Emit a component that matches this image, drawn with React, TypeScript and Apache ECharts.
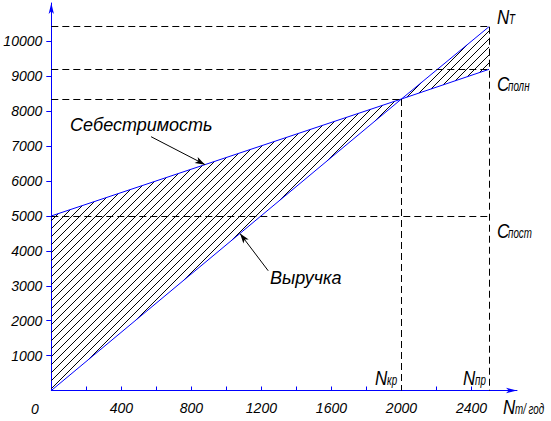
import React, { useEffect, useRef } from "react";
import * as echarts from "echarts";

// ---- data ----
const xTickValues = [200, 400, 600, 800, 1000, 1200, 1400, 1600, 1800, 2000, 2200, 2400];
const xLabelValues = [400, 800, 1200, 1600, 2000, 2400];
const yTickValues = [1000, 2000, 3000, 4000, 5000, 6000, 7000, 8000, 9000, 10000];
const volumeX = [0, 2000, 2500];
const costValues = [5000, 8350, 9200];
const revenueValues = [0, 8350, 10420];
const fixedCost = 5000;
const breakEvenVolume = 2000;
const capacityVolume = 2500;
const costArrow = [[570, 7270], [878, 6470]];
const revenueArrow = [[1239, 3430], [1078, 4495]];

const FONT = "'Liberation Sans', Arial, sans-serif";
const BLUE = "#0000ff";
const HATCH_STEP = 8;

function hatchLines(pts: number[][]) {
  const sums = pts.map((p) => p[0] + p[1]);
  const cMin = Math.ceil(Math.min(...sums) / HATCH_STEP) * HATCH_STEP;
  const cMax = Math.max(...sums);
  const out: any[] = [];
  for (let c = cMin; c <= cMax; c += HATCH_STEP) {
    const xs: number[] = [];
    for (let i = 0; i < pts.length; i++) {
      const a = pts[i];
      const b = pts[(i + 1) % pts.length];
      const dx = b[0] - a[0];
      const dy = b[1] - a[1];
      const den = dx + dy;
      if (Math.abs(den) < 1e-9) continue;
      const s = (c - a[0] - a[1]) / den;
      if (s >= -1e-9 && s <= 1 + 1e-9) xs.push(a[0] + s * dx);
    }
    if (xs.length < 2) continue;
    const x1 = Math.min(...xs);
    const x2 = Math.max(...xs);
    if (x2 - x1 < 0.5) continue;
    out.push({
      type: "line",
      shape: { x1, y1: c - x1, x2, y2: c - x2 },
      style: { stroke: "#000", lineWidth: 1 },
      silent: true,
    });
  }
  return out;
}

function App() {
  const ref = useRef<HTMLDivElement>(null);
  useEffect(() => {
    if (!ref.current) return;
    const chart = echarts.init(ref.current, null, { renderer: "svg" });

    const beY = costValues[volumeX.indexOf(breakEvenVolume)];
    const capCost = costValues[volumeX.indexOf(capacityVolume)];
    const capRev = revenueValues[volumeX.indexOf(capacityVolume)];

    const dashStyle = { color: "#000", width: 1, type: [7, 4] as any };
    const seg = (a: number[], b: number[]) => [{ coord: a }, { coord: b }];

    const txt = (text: string, x: number, y: number, size: number, sx = 1) => ({
      type: "text",
      x,
      y,
      scaleX: sx,
      silent: true,
      style: {
        text,
        fill: "#000",
        font: `italic ${size}px ${FONT}`,
        align: "left",
        verticalAlign: "bottom",
      },
    });
    const sym = (main: string, sub: string, x: number, baseline: number, subDx: number) => [
      txt(main, x, baseline + 4, 20, 0.85),
      txt(sub, x + subDx, baseline + 3, 14, 0.7),
    ];

    const segIdx = volumeX.slice(0, -1).map((_, i) => [i, 0]);

    const option: any = {
      animation: false,
      backgroundColor: "#fff",
      grid: { left: 51.3, right: 34, top: 3, bottom: 30.5 },
      xAxis: {
        type: "value",
        min: 0,
        max: 2660,
        splitLine: { show: false },
        axisLine: { lineStyle: { color: BLUE, width: 1 }, symbol: ["none", "arrow"], symbolSize: [4, 11] },
        axisTick: { inside: true, length: 4, customValues: xTickValues, lineStyle: { color: BLUE } },
        axisLabel: {
          customValues: xLabelValues,
          formatter: (v: number) => String(v),
          margin: 10,
          color: "#000",
          fontSize: 14,
          fontStyle: "italic",
          fontFamily: FONT,
        },
      },
      yAxis: {
        type: "value",
        min: 0,
        max: 11100,
        splitLine: { show: false },
        axisLine: { lineStyle: { color: BLUE, width: 1 }, symbol: ["none", "arrow"], symbolSize: [4, 11] },
        axisTick: { length: 5, customValues: yTickValues, lineStyle: { color: BLUE } },
        axisLabel: {
          customValues: yTickValues,
          formatter: (v: number) => String(v),
          margin: 9,
          color: "#000",
          fontSize: 14,
          fontStyle: "italic",
          fontFamily: FONT,
        },
      },
      series: [
        {
          type: "custom",
          name: "hatch",
          silent: true,
          data: segIdx,
          renderItem: (params: any, api: any) => {
            const i = params.dataIndex;
            const poly = [
              [volumeX[i], costValues[i]],
              [volumeX[i + 1], costValues[i + 1]],
              [volumeX[i + 1], revenueValues[i + 1]],
              [volumeX[i], revenueValues[i]],
            ].map((p) => api.coord(p));
            return { type: "group", children: hatchLines(poly) };
          },
        },
        {
          type: "line",
          name: "Себестоимость",
          data: volumeX.map((x, i) => [x, costValues[i]]),
          showSymbol: false,
          silent: true,
          lineStyle: { color: BLUE, width: 1 },
          itemStyle: { color: BLUE },
          markLine: {
            silent: true,
            symbol: ["none", "none"],
            label: { show: false },
            lineStyle: dashStyle,
            data: [
              seg([0, capRev], [capacityVolume, capRev]),
              seg([0, capCost], [capacityVolume, capCost]),
              seg([0, beY], [breakEvenVolume, beY]),
              seg([0, fixedCost], [capacityVolume, fixedCost]),
              seg([breakEvenVolume, beY], [breakEvenVolume, 0]),
              seg([capacityVolume, capRev], [capacityVolume, 0]),
            ],
          },
        },
        {
          type: "line",
          name: "Выручка",
          data: volumeX.map((x, i) => [x, revenueValues[i]]),
          showSymbol: false,
          silent: true,
          lineStyle: { color: BLUE, width: 1 },
          itemStyle: { color: BLUE },
          markLine: {
            silent: true,
            symbol: ["none", "arrow"],
            symbolSize: [5, 10],
            label: { show: false },
            lineStyle: { color: "#000", width: 1, type: "solid" },
            data: [
              [{ coord: costArrow[0] }, { coord: costArrow[1] }],
              [{ coord: revenueArrow[0] }, { coord: revenueArrow[1] }],
            ],
          },
        },
      ],
      graphic: [
        txt("0", 31, 416, 14),
        {
          type: "text",
          x: 70,
          y: 125,
          silent: true,
          style: { text: "Себестримость", fill: "#000", font: `italic 18px ${FONT}`, verticalAlign: "middle" },
        },
        {
          type: "text",
          x: 270,
          y: 278,
          silent: true,
          style: { text: "Выручка", fill: "#000", font: `italic 18px ${FONT}`, verticalAlign: "middle" },
        },
        ...sym("N", "Т", 497, 23, 12),
        ...sym("C", "полн", 497, 90, 11),
        ...sym("C", "пост", 497, 237, 11),
        ...sym("N", "кр", 375, 384, 12),
        ...sym("N", "пр", 463, 384, 12),
        ...sym("N", "т/ год", 503, 413, 12),
      ],
    };
    chart.setOption(option);
    return () => chart.dispose();
  }, []);
  return (
    <div
      ref={ref}
      style={{ position: "fixed", left: 0, top: 0, width: 551, height: 421, background: "#fff" }}
    />
  );
}

export default App;
